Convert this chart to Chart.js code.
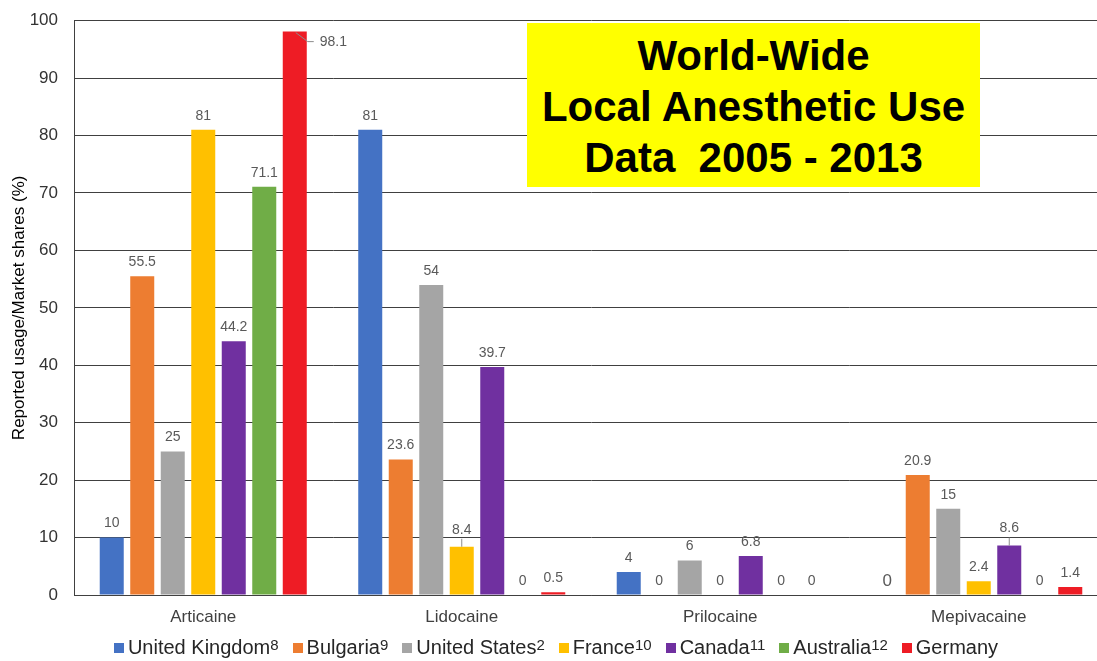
<!DOCTYPE html>
<html>
<head>
<meta charset="utf-8">
<script src="https://cdn.jsdelivr.net/npm/chart.js@4.4.1/dist/chart.umd.min.js"></script>
<style>
  html, body { margin: 0; padding: 0; background: #fff; overflow: hidden; }
  #wrap { position: relative; width: 1097px; height: 661px; overflow: hidden; }
  #chart { position: absolute; left: 0; top: 0; }
  #titleBox {
    position: absolute; left: 527px; top: 23px; width: 453px; height: 164px;
    background: #ffff00; color: #000; text-align: center;
    font: bold 42px "Liberation Sans", Arial, sans-serif; line-height: 51px;
    padding-top: 7px; box-sizing: border-box; white-space: pre;
  }
  #legend {
    position: absolute; left: 0; top: 636px; width: 1112px;
    display: flex; justify-content: center; gap: 14px;
    font: 20px "Liberation Sans", Arial, sans-serif; color: #262626;
  }
  #legend span.item { display: flex; align-items: center; white-space: nowrap; }
  #legend i { display: inline-block; width: 10px; height: 10px; margin-right: 4px; }
  #legend sup { font-size: 15px; position: relative; top: -3px; }
</style>
</head>
<body>
<div id="wrap">
  <canvas id="chart" width="1112" height="661"></canvas>
  <div id="titleBox">World-Wide
Local Anesthetic Use
Data  2005 - 2013</div>
  <div id="legend"></div>
</div>
<script>
const categories = ['Articaine', 'Lidocaine', 'Prilocaine', 'Mepivacaine'];
const countries = ['United Kingdom', 'Bulgaria', 'United States', 'France', 'Canada', 'Australia', 'Germany'];
const refs = ['8', '9', '2', '10', '11', '12', ''];
const colors = ['#4472C4', '#ED7D31', '#A5A5A5', '#FFC000', '#7030A0', '#70AD47', '#EE1C25'];

const ukValues = [10, 81, 4, 0];
const bulgariaValues = [55.5, 23.6, 0, 20.9];
const usValues = [25, 54, 6, 15];
const franceValues = [81, 8.4, 0, 2.4];
const canadaValues = [44.2, 39.7, 6.8, 8.6];
const australiaValues = [71.1, 0, 0, 0];
const germanyValues = [98.1, 0.5, 0, 1.4];

const yTicks = [0, 10, 20, 30, 40, 50, 60, 70, 80, 90, 100];

const seriesValues = [ukValues, bulgariaValues, usValues, franceValues, canadaValues, australiaValues, germanyValues];

// value labels above bars, with a few leader lines like the original
const valueLabels = {
  id: 'valueLabels',
  afterDatasetsDraw(chart) {
    const ctx = chart.ctx;
    ctx.save();
    ctx.font = '14px "Liberation Sans", Arial, sans-serif';
    ctx.fillStyle = '#595959';
    ctx.strokeStyle = '#8c8c8c';
    ctx.lineWidth = 1;
    chart.data.datasets.forEach((ds, di) => {
      chart.getDatasetMeta(di).data.forEach((bar, i) => {
        const v = ds.data[i];
        const text = String(v);
        if (di === 6 && i === 0) {
          // label pushed to the right of the tallest bar
          const right = bar.x + bar.width / 2;
          ctx.beginPath();
          ctx.moveTo(right - 11, bar.y + 1);
          ctx.lineTo(right + 1, bar.y + 10);
          ctx.lineTo(right + 7, bar.y + 10);
          ctx.stroke();
          ctx.textAlign = 'left';
          ctx.textBaseline = 'middle';
          ctx.fillText(text, right + 13, bar.y + 11);
        } else if ((di === 3 && i === 1) || (di === 4 && i === 3)) {
          ctx.beginPath();
          ctx.moveTo(bar.x, bar.y);
          ctx.lineTo(bar.x, bar.y - 8);
          ctx.stroke();
          ctx.textAlign = 'center';
          ctx.textBaseline = 'middle';
          ctx.fillText(text, bar.x, bar.y - 17);
        } else {
          ctx.textAlign = 'center';
          ctx.textBaseline = 'middle';
          if (di === 0 && i === 3) {
            ctx.font = '17px "Liberation Sans", Arial, sans-serif';
            ctx.fillText(text, bar.x, bar.y - 14);
            ctx.font = '14px "Liberation Sans", Arial, sans-serif';
          } else {
            ctx.fillText(text, bar.x, bar.y - 14);
          }
        }
      });
    });
    ctx.restore();
  }
};

document.addEventListener('DOMContentLoaded', () => {
  const ctx = document.getElementById('chart').getContext('2d');

  const datasets = countries.map((name, k) => ({
    label: name,
    data: seriesValues[k],
    backgroundColor: colors[k],
    borderWidth: 0,
    categoryPercentage: 0.826,
    barPercentage: 0.787,
  }));

  const chart = new Chart(ctx, {
    type: 'bar',
    data: { labels: categories, datasets },
    options: {
      responsive: false,
      animation: false,
      devicePixelRatio: 1,
      layout: { padding: { top: 20.7, right: 4, left: 0, bottom: 0 } },
      plugins: {
        legend: { display: false },
        tooltip: { enabled: false },
      },
      scales: {
        x: {
          grid: { display: false, drawTicks: false },
          border: { display: true, color: '#404040', width: 1 },
          ticks: {
            color: '#404040',
            padding: 12,
            font: { family: '"Liberation Sans", Arial, sans-serif', size: 17 },
          },
          afterFit: scale => { scale.height = 66; },
        },
        y: {
          min: 0,
          max: 100,
          afterBuildTicks: scale => { scale.ticks = yTicks.map(v => ({ value: v })); },
          grid: { color: '#404040', lineWidth: 1, drawTicks: true, tickLength: 12, tickColor: 'rgba(0,0,0,0)' },
          border: { display: true, color: '#404040', width: 1 },
          ticks: {
            color: '#333333',
            padding: 4,
            font: { family: '"Liberation Sans", Arial, sans-serif', size: 17 },
          },
          title: {
            display: true,
            text: 'Reported usage/Market shares (%)',
            color: '#000000',
            padding: { top: 9, bottom: 0 },
            font: { family: '"Liberation Sans", Arial, sans-serif', size: 17 },
          },
          afterFit: scale => { scale.width = 74; },
        },
      },
    },
    plugins: [valueLabels],
  });

  const legend = document.getElementById('legend');
  chart.data.datasets.forEach((ds, k) => {
    const item = document.createElement('span');
    item.className = 'item';
    item.innerHTML = '<i style="background:' + ds.backgroundColor + '"></i>' + ds.label +
      (refs[k] ? '<sup>' + refs[k] + '</sup>' : '');
    legend.appendChild(item);
  });
});
</script>
</body>
</html>
